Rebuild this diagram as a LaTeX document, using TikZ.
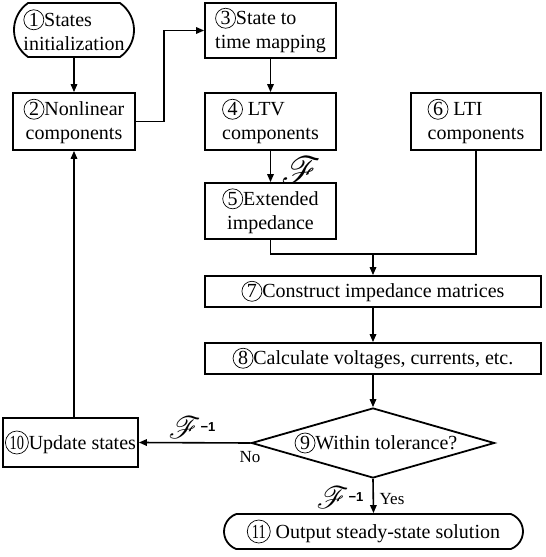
\documentclass[tikz,border=0pt]{standalone}
\usepackage{fontspec}
\setmainfont{Liberation Serif}
\newfontfamily\boldsans{Liberation Sans}
\usepackage{mathrsfs}
\usepackage{graphicx}
\usetikzlibrary{shapes.geometric,shapes.misc,arrows.meta}

\newcommand{\cn}[1]{\tikz[baseline=(cc.base)]\node[circle,draw,line width=0.7pt,inner sep=0pt,minimum size=20pt,font=\fontsize{20}{24}\selectfont](cc){#1};}
\newcommand{\cnn}[1]{\tikz[baseline=(cc.base)]\node[circle,draw,line width=0.7pt,inner sep=0pt,minimum size=23pt,font=\fontsize{20}{24}\selectfont](cc){\scalebox{0.72}[1]{#1}};}
\newcommand{\scrF}[1]{\scalebox{#1}{$\mathscr{F}$}}
\newcommand{\minusone}{{\boldsans\bfseries\fontsize{13}{13}\selectfont −1}}

\tikzset{
  base/.style={line width=1.8pt,inner sep=0pt,font=\fontsize{20}{24}\selectfont},
  box/.style={base,draw,rectangle},
  term/.style={base,draw,rounded rectangle},
  dia/.style={base,draw,diamond},
  arr/.style={line width=1.6pt,-{Triangle[length=8pt,width=6.5pt]}},
  ln/.style={line width=1.6pt},
  lbl/.style={inner sep=0pt,font=\fontsize{17.28}{20}\selectfont},
}

\begin{document}
\begin{tikzpicture}[x=1pt,y=1pt]
\useasboundingbox (0,-557) rectangle (546,0);

\node[term,rounded rectangle arc length=110,minimum width=120pt,minimum height=54pt,align=left] (n1) at (74,-30) {\cn{1}States\\initialization};
\node[box,minimum width=122pt,minimum height=57pt,align=center] (n2) at (74,-121.5) {\cn{2}Nonlinear\\components};
\node[box,minimum width=131pt,minimum height=55pt,align=left] (n3) at (270.5,-30.5) {\cn{3}State to\\time mapping};
\node[box,minimum width=131pt,minimum height=57pt,align=left] (n4) at (270.5,-121.5) {\cn{4} LTV\\components};
\node[box,minimum width=131pt,minimum height=56pt,align=center] (n5) at (270.5,-211) {\cn{5}Extended\\impedance};
\node[box,minimum width=130pt,minimum height=57pt,align=left] (n6) at (476,-121.5) {\cn{6} LTI\\components};
\node[box,minimum width=336pt,minimum height=31pt] (n7) at (373,-291.5) {\cn{7}Construct impedance matrices};
\node[box,minimum width=336pt,minimum height=31pt] (n8) at (373,-358.5) {\cn{8}Calculate voltages, currents, etc.};
\node[dia,minimum width=243pt,minimum height=70pt] (n9) at (373,-443) {};
\node[base] (n9t) at (376,-443) {\cn{9}Within tolerance?};
\node[box,minimum width=135pt,minimum height=49pt] (n10) at (70.5,-442.5) {\cnn{10}Update states};
\node[term,rounded rectangle arc length=140,minimum width=299pt,minimum height=35pt] (n11) at (373.5,-531.5) {\cnn{11} Output steady-state solution};

% connectors
\draw[arr] (n1) -- (n2);
\draw[arr] (n2.east) -- ++(28,0) |- (n3.west);
\draw[arr] (n3) -- (n4);
\draw[arr] (n4) -- (n5);
\coordinate (j) at (373,-254);
\draw[ln] (n5.south) |- (j);
\draw[ln] (n6.south) |- (j);
\draw[arr] (j) -- (n7.north);
\draw[arr] (n7) -- (n8);
\draw[arr] (n8.south) -- (n9.north);
\draw[arr] (n9.west) -- (n10.east);
\draw[arr] (n9.south) -- (n11.north);
\draw[arr] (n10.north -| n2.south) -- (n2.south);

% labels
\node[lbl] (fa) at (301,-170) {\scrF{2.2}};
\node[lbl] (fb) at (192,-428) {\scrF{1.8}\raisebox{7pt}{\minusone}};
\node[lbl,font=\fontsize{17}{20}\selectfont] (no) at (250,-457) {No};
\node[lbl] (fc) at (340,-498) {\scrF{1.8}\raisebox{7pt}{\minusone}};
\node[lbl,font=\fontsize{17}{20}\selectfont] (yes) at (392,-499) {Yes};
\end{tikzpicture}
\end{document}
